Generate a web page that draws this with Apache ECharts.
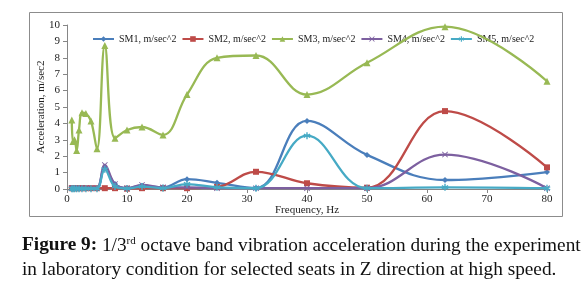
<!DOCTYPE html>
<html>
<head>
<meta charset="utf-8">
<script src="https://cdn.jsdelivr.net/npm/echarts@6/dist/echarts.min.js"></script>
<style>
  html, body { margin: 0; padding: 0; background: #fff; }
  #chart { width: 588px; height: 292px; }
</style>
</head>
<body>
<div id="chart"></div>
<script>
// 1/3 octave band centre frequencies, Hz
var freq = [0.8, 1, 1.25, 1.6, 2, 2.5, 3.15, 4, 5, 6.3, 8, 10, 12.5, 16, 20, 25, 31.5, 40, 50, 63, 80];

var sm1 = [0.05, 0.05, 0.05, 0.05, 0.05, 0.05, 0.05, 0.05, 0.05, 1.3, 0.3, 0.05, 0.2, 0.1, 0.6, 0.38, 0.05, 4.15, 2.08, 0.55, 1.03];
var sm2 = [0.05, 0.05, 0.05, 0.05, 0.05, 0.05, 0.05, 0.05, 0.05, 0.05, 0.05, 0.02, 0.05, 0.05, 0.05, 0.12, 1.05, 0.35, 0.08, 4.75, 1.32];
var sm3 = [4.2, 2.9, 3.0, 2.35, 3.6, 4.65, 4.6, 4.15, 2.45, 8.75, 3.1, 3.6, 3.78, 3.3, 5.76, 8.0, 8.14, 5.76, 7.7, 9.9, 6.57];
var sm4 = [0.05, 0.05, 0.05, 0.05, 0.05, 0.05, 0.05, 0.05, 0.05, 1.47, 0.3, 0.05, 0.25, 0.1, 0.1, 0.05, 0.05, 0.05, 0.05, 2.1, 0.05];
var sm5 = [0.02, 0.02, 0.02, 0.02, 0.02, 0.02, 0.02, 0.02, 0.02, 1.2, 0.15, 0.03, 0.15, 0.05, 0.3, 0.1, 0.05, 3.25, 0.05, 0.1, 0.05];

var names = ['SM1, m/sec^2', 'SM2, m/sec^2', 'SM3, m/sec^2', 'SM4, m/sec^2', 'SM5, m/sec^2'];
var colors = ['#4A7EBB', '#BE4B48', '#98B954', '#7D60A0', '#46AAC5'];
var symbols = [
  'diamond',
  'rect',
  'triangle',
  'path://M0,1L1,0L5,4L9,0L10,1L6,5L10,9L9,10L5,6L1,10L0,9L4,5Z',
  'path://M4,0L6,0L6,3.5L9,1.8L10,3.5L7,5L10,6.5L9,8.2L6,6.5L6,10L4,10L4,6.5L1,8.2L0,6.5L3,5L0,3.5L1,1.8L4,3.5Z'
];
var symbolSizes = [6, 6, 7, 6, 7];

function pairs(vals) {
  var out = [];
  for (var i = 0; i < freq.length; i++) out.push([freq[i], vals[i]]);
  return out;
}

var serif = '"Liberation Serif", "Times New Roman", serif';
var allData = [sm1, sm2, sm3, sm4, sm5];

var series = [];
for (var k = 0; k < allData.length; k++) {
  series.push({
    name: names[k],
    type: 'line',
    smooth: 0.4,
    data: pairs(allData[k]),
    symbol: symbols[k],
    symbolSize: symbolSizes[k],
    showAllSymbol: true,
    lineStyle: { width: 2.3, color: colors[k] },
    itemStyle: { color: colors[k] },
    clip: true,
    z: 2 + k
  });
}

var myChart = echarts.init(document.getElementById('chart'));
var option = {
  backgroundColor: '#fff',
  animation: false,
  color: colors,
  grid: { left: 67, right: 41, top: 25, bottom: 103 },
  legend: {
    left: 87,
    top: 29,
    width: 540,
    itemWidth: 21,
    itemHeight: 7,
    itemGap: 5,
    textStyle: { fontFamily: serif, fontSize: 10, color: '#222' },
    data: names
  },
  xAxis: {
    type: 'value',
    min: 0,
    max: 80,
    interval: 10,
    name: 'Frequency, Hz',
    nameLocation: 'middle',
    nameGap: 16,
    nameMoveOverlap: false,
    nameTextStyle: { fontFamily: serif, fontSize: 11, color: '#222' },
    axisLine: { lineStyle: { color: '#868686' } },
    axisTick: { show: true, length: 4, lineStyle: { color: '#868686' } },
    axisLabel: { fontFamily: serif, fontSize: 11, color: '#222', margin: 5 },
    splitLine: { show: false }
  },
  yAxis: {
    type: 'value',
    min: 0,
    max: 10,
    interval: 1,
    name: 'Acceleration, m/sec2',
    nameLocation: 'middle',
    nameGap: 20,
    nameMoveOverlap: false,
    nameTextStyle: { fontFamily: serif, fontSize: 11, color: '#222' },
    axisLine: { show: true, lineStyle: { color: '#868686' } },
    axisTick: { show: true, length: 4, lineStyle: { color: '#868686' } },
    axisLabel: { fontFamily: serif, fontSize: 11, color: '#222', margin: 7 },
    splitLine: { show: false }
  },
  graphic: [
    {
      type: 'rect',
      shape: { x: 29.5, y: 12.5, width: 533, height: 204 },
      style: { fill: 'none', stroke: '#8c8c8c', lineWidth: 1 },
      silent: true,
      z: -1
    },
    {
      type: 'text',
      left: 22,
      top: 236,
      style: {
        text: '{b|Figure 9:} 1/3{sup|rd} octave band vibration acceleration during the experiment',
        fontFamily: serif,
        fontSize: 19.3,
        fill: '#111',
        rich: {
          b: { fontFamily: serif, fontSize: 19.3, fontWeight: 'bold', fill: '#111' },
          sup: { fontFamily: serif, fontSize: 11, fill: '#111', verticalAlign: 'top' }
        }
      }
    },
    {
      type: 'text',
      left: 22,
      top: 260,
      style: {
        text: 'in laboratory condition for selected seats in Z direction at high speed.',
        fontFamily: serif,
        fontSize: 19.3,
        fill: '#111'
      }
    }
  ],
  series: series
};

myChart.setOption(option);
</script>
</body>
</html>
